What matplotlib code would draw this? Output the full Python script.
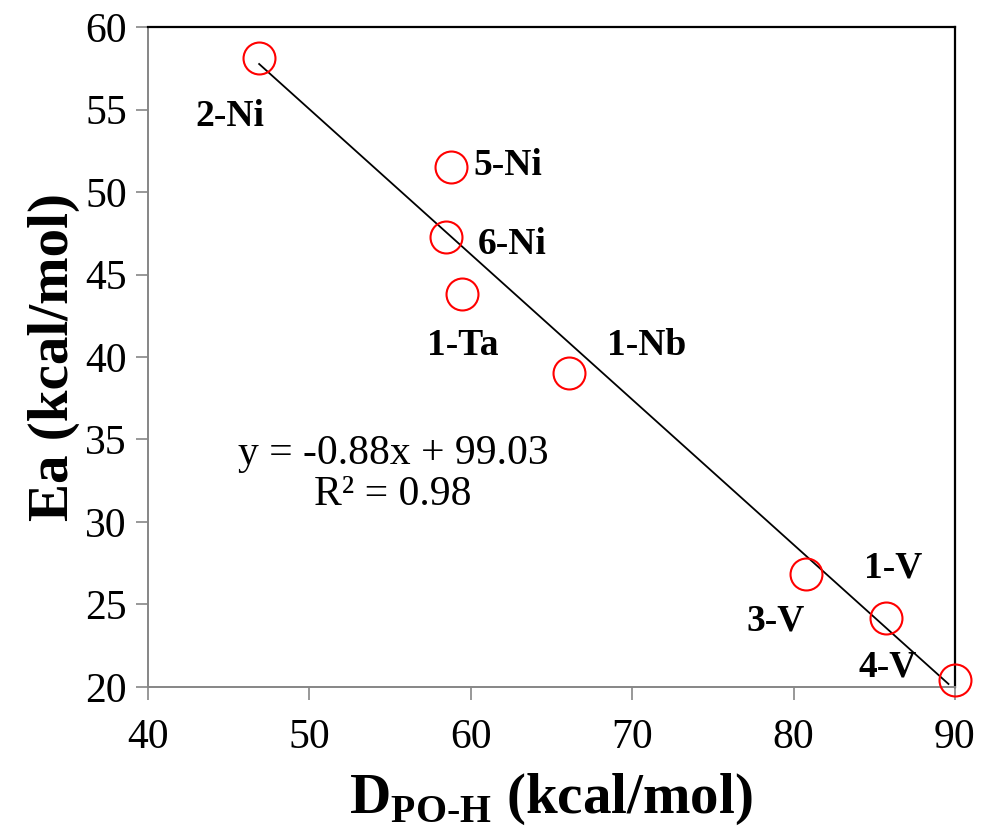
import numpy as np
import matplotlib
matplotlib.use("Agg")
import matplotlib.pyplot as plt

plt.rcParams['font.family'] = ['Liberation Serif', 'DejaVu Serif']
plt.rcParams['mathtext.fontset'] = 'custom'
plt.rcParams['mathtext.rm'] = 'Liberation Serif'
plt.rcParams['mathtext.bf'] = 'Liberation Serif:bold'

# data
names = ['2-Ni', '5-Ni', '6-Ni', '1-Ta', '1-Nb', '3-V', '1-V', '4-V']
d_poh = [46.9, 58.8, 58.5, 59.45, 66.1, 80.8, 85.7, 90.0]
ea = [58.1, 51.5, 47.3, 43.8, 39.0, 26.85, 24.2, 20.4]
# label positions (data coords)
lab_x = [45.1, 62.3, 62.55, 59.5, 70.9, 78.9, 86.2, 85.85]
lab_y = [54.6, 51.6, 46.8, 40.7, 40.7, 24.0, 27.2, 21.2]

slope = -0.88
intercept = 99.03
r2 = 0.98

fig = plt.figure(figsize=(9.85, 8.31), dpi=100)
ax = fig.add_axes([0.150, 0.1733, 0.8195, 0.7942])

ax.plot(d_poh, ea, 'o', ms=23, mfc='none', mec='#ff0000', mew=1.5,
        zorder=3, clip_on=False)

xs = np.array([min(d_poh), max(d_poh) - 0.4])
ax.plot(xs, slope * xs + intercept, color='black', lw=1.3, zorder=2)

for n, x, y in zip(names, lab_x, lab_y):
    ax.text(x, y, n, ha='center', va='center', fontsize=27, fontweight='bold')

ax.text(55.2, 32.9, 'y = %.2fx + %.2f\nR² = %.2f' % (slope, intercept, r2),
        ha='center', va='center', fontsize=30, linespacing=1.1)

ax.set_xlim(40, 90)
ax.set_ylim(20, 60)
ax.set_xticks(range(40, 91, 10))
ax.set_yticks(range(20, 61, 5))
ax.tick_params(direction='out', length=9, width=1.2, color='#868686',
               labelsize=30, pad=6)
ax.tick_params(axis='x', pad=14)

for s in ['left', 'bottom']:
    ax.spines[s].set_color('#868686')
    ax.spines[s].set_linewidth(1.4)
for s in ['top', 'right']:
    ax.spines[s].set_color('black')
    ax.spines[s].set_linewidth(1.6)

ax.set_xlabel(r'D$_{\mathbf{PO\text{-}H}}$ (kcal/mol)', fontsize=41,
              fontweight='bold', labelpad=10)
ax.set_ylabel('Ea (kcal/mol)', fontsize=41, fontweight='bold', labelpad=4)

fig.savefig('out.png', dpi=100)
